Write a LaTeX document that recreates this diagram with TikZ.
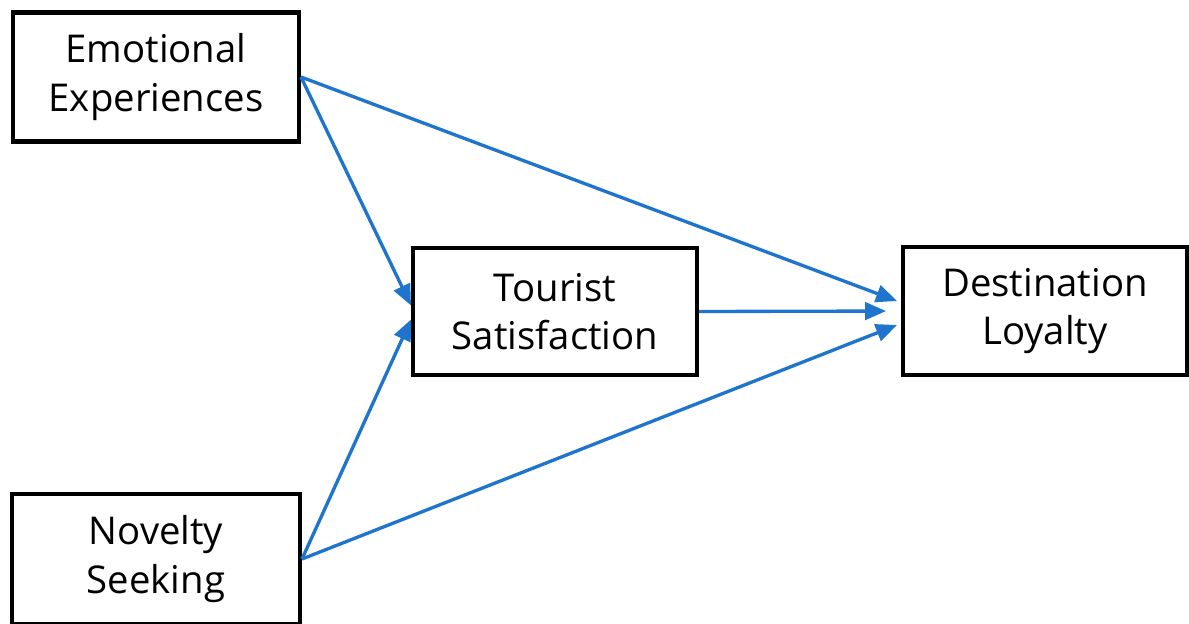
\documentclass[tikz,border=0pt]{standalone}
\usepackage{fontspec}
\setmainfont{Open Sans}
\usetikzlibrary{arrows.meta}
\definecolor{arrowblue}{HTML}{1F74CD}
\begin{document}
\begin{tikzpicture}[x=0.02cm,y=-0.02cm,
  box/.style={draw=black, line width=2.3pt, fill=white, align=center, inner sep=0pt,
    font=\fontsize{21.8}{27.5}\selectfont},
  link/.style={draw=arrowblue, line width=1.9pt, -{Triangle[length=0.42cm,width=0.35cm]}}]
\useasboundingbox (0,0) rectangle (1189,623);
\node[box, minimum width=5.72cm, minimum height=2.58cm] (ee) at (156,77) {\raisebox{-2pt}{\parbox{5cm}{\centering Emotional\\Experiences}}};
\node[box, minimum width=5.76cm, minimum height=2.6cm] (ns) at (156,559) {\raisebox{-2pt}{\parbox{5cm}{\centering Novelty\\Seeking}}};
\node[box, minimum width=5.68cm, minimum height=2.54cm] (ts) at (555,311.5) {\raisebox{-2pt}{\parbox{5cm}{\centering Tourist\\Satisfaction}}};
\node[box, minimum width=5.68cm, minimum height=2.56cm] (dl) at (1045,311) {\raisebox{-2pt}{\parbox{5cm}{\centering Destination\\Loyalty}}};
\draw[link] (ee.east) -- ([yshift=0.12cm]ts.west);
\draw[link] (ns.east) -- ([yshift=-0.16cm]ts.west);
\draw[link] (ee.east) -- ([yshift=0.2cm,xshift=-0.08cm]dl.west);
\draw[link, shorten >=0.3cm] (ts.east) -- (dl.west);
\draw[link] (ns.east) -- ([yshift=-0.28cm,xshift=-0.08cm]dl.west);
\end{tikzpicture}
\end{document}
